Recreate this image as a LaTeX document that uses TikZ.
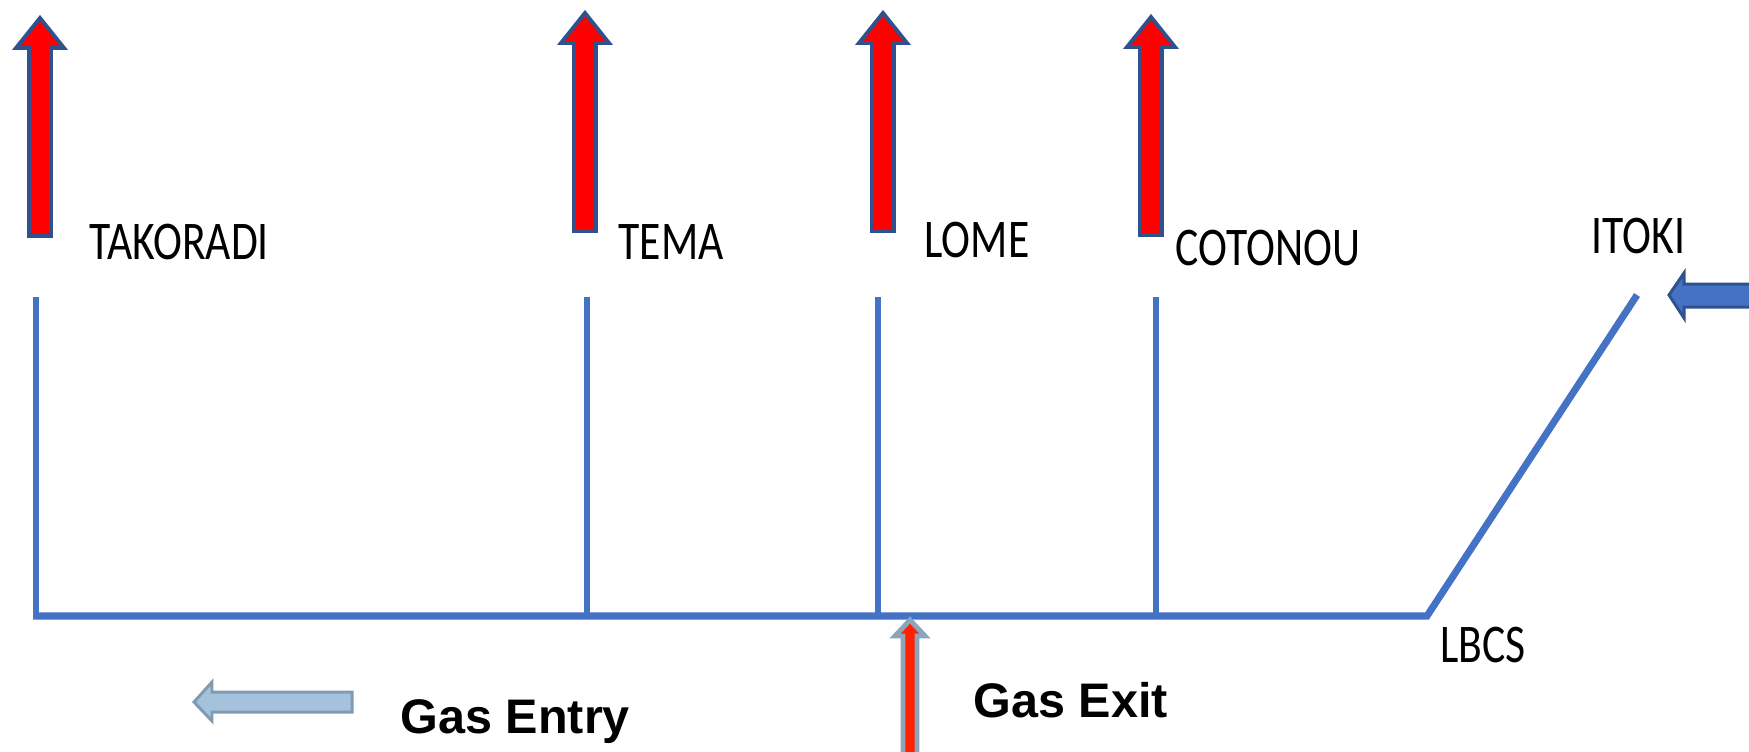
\documentclass[tikz,border=0pt]{standalone}
\usepackage{fontspec}
\setmainfont{Liberation Sans}
\newfontfamily\townfont{Carlito}
\definecolor{pipeblue}{HTML}{4472C4}
\definecolor{edgeblue}{HTML}{2F528F}
\definecolor{entryfill}{HTML}{A4C2DB}
\definecolor{entryedge}{HTML}{7F9BB2}
\definecolor{exitred}{HTML}{FF2200}
\definecolor{exitedge}{HTML}{8CA5BC}
\begin{document}
\begin{tikzpicture}[x=0.01cm,y=-0.01cm,line join=miter,
	pipe/.style={draw=pipeblue,line width=1.6pt},
	mainpipe/.style={draw=pipeblue,line width=2pt},
	outflow/.style={fill=red,draw=edgeblue,line width=1.1pt},
	inflow/.style={fill=pipeblue,draw=edgeblue,line width=0.85pt},
	town/.style={font=\townfont\fontsize{15.5}{18}\selectfont,xscale=0.8,inner sep=0pt,anchor=base west},
	flowlabel/.style={font=\bfseries\fontsize{13.8}{16}\selectfont,inner sep=0pt,anchor=base west}]
			
			\useasboundingbox (0,0) rectangle (1749,751);
			\clip (0,0) rectangle (1749,751);
			\coordinate (west) at (33,616);
			\coordinate (lbcs) at (1427,616);
			\coordinate (itoki) at (1637,295);
			\foreach \n/\cx/\ty/\vx/\lx/\ly/\name in {tak/40/15/36/89/259/TAKORADI,tema/585/10/587/618/259/TEMA,lome/883/10/878/924/257/LOME,coto/1151/14/1156/1175/265/COTONOU}
			{
				\draw[outflow] (\cx,\ty+3) -- ++(24,30) -- ++(-13,0) -- ++(0,188) -- ++(-22,0) -- ++(0,-188) -- ++(-13,0) -- cycle;
				\coordinate (\n top) at (\vx,297);
				\coordinate (\n jn) at (\vx,616);
				\draw[pipe] (\n top) -- (\n jn);
				\node[town] (\n lab) at (\lx,\ly) {\name};
			}
			\draw[mainpipe] (west) -- (lbcs) -- (itoki);
			\node[town] (lbcs lab) at (1440,662) {LBCS};
			\node[town] (itoki lab) at (1591,253) {ITOKI};
			\draw[inflow] (1669,295) -- (1684,273) -- (1684,284) -- (1760,284) -- (1760,307) -- (1684,307) -- (1684,318) -- cycle;
			\draw[fill=entryfill,draw=entryedge,line width=0.85pt] (194,702) -- (212,682) -- (212,692) -- (352,692) -- (352,712) -- (212,712) -- (212,721) -- cycle;
			\node[flowlabel] (entry) at (400,733) {Gas Entry};
			\draw[fill=exitred,draw=exitedge,line width=1.4pt] (910,620) -- (925,636) -- (917,636) -- (917,760) -- (903,760) -- (903,636) -- (895,636) -- cycle;
			\node[flowlabel] (exit) at (973,717) {Gas Exit};
		\end{tikzpicture}
\end{document}
